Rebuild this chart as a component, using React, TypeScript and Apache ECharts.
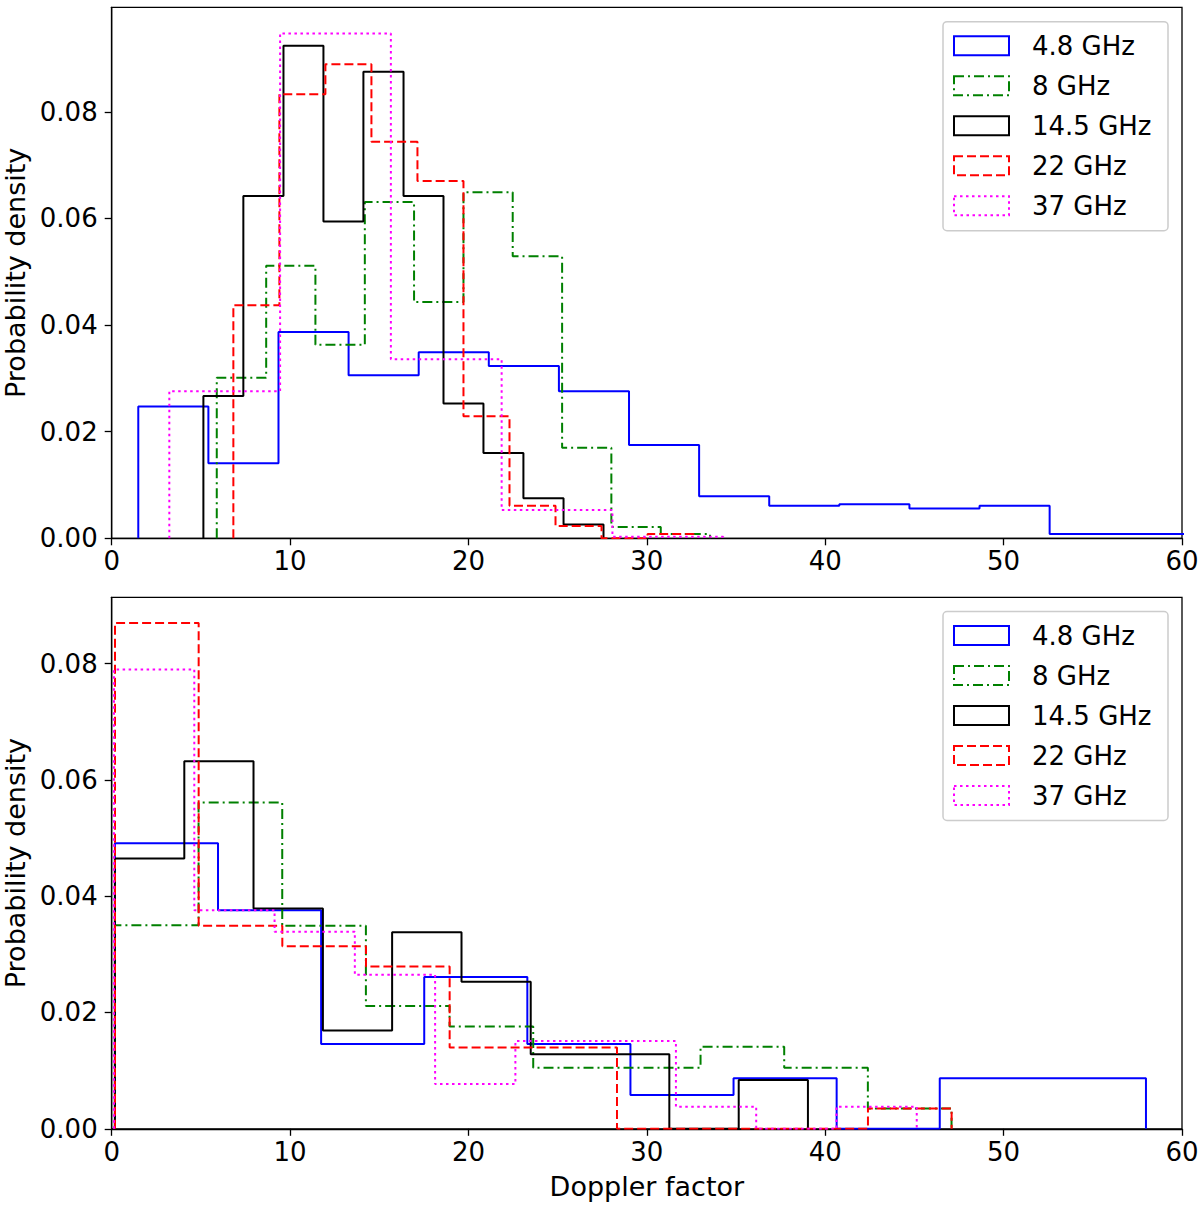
import { useEffect, useRef } from "react";
import * as echarts from "echarts";

// frequency bands, drawn in this order
const bands = ["4.8 GHz", "8 GHz", "14.5 GHz", "22 GHz", "37 GHz"];
const bandColors = ["#0000ff", "#008000", "#000000", "#ff0000", "#ff00ff"];
const bandDash: (number[] | "solid")[] = ["solid", [10, 4, 2, 4], "solid", [9, 4], [2.5, 3.5]];

// top panel: bin edges and densities
const blueTopEdges = [1.49, 5.42, 9.35, 13.28, 17.21, 21.14, 25.07, 29.0, 32.93, 36.86, 40.79, 44.72, 48.65, 52.58, 56.51, 60.44];
const blueTop = [0.0247, 0.0141, 0.0387, 0.0306, 0.0349, 0.0323, 0.0276, 0.0175, 0.0079, 0.0061, 0.0064, 0.0056, 0.0061, 0.0008, 0.0008];
const greenTopEdges = [5.89, 8.66, 11.42, 14.19, 16.95, 19.72, 22.48, 25.25, 28.01, 30.78, 33.54];
const greenTop = [0.0301, 0.0511, 0.0363, 0.0631, 0.0443, 0.0649, 0.0529, 0.017, 0.0021, 0.0008];
const blackTopEdges = [5.14, 7.38, 9.63, 11.87, 14.11, 16.36, 18.6, 20.84, 23.08, 25.33, 27.57];
const blackTop = [0.0267, 0.0642, 0.0924, 0.0594, 0.0875, 0.0642, 0.0253, 0.016, 0.0075, 0.0026];
const redTopEdges = [6.82, 9.4, 11.98, 14.56, 17.14, 19.72, 22.3, 24.88, 27.46, 30.04, 32.62];
const redTop = [0.0437, 0.0833, 0.0889, 0.0744, 0.067, 0.0229, 0.0061, 0.0023, 0, 0.0008];
const magentaTopEdges = [3.23, 9.44, 15.65, 21.86, 28.07, 34.28];
const magentaTop = [0.0276, 0.0947, 0.0336, 0.0053, 0.0003];

// bottom panel
const blueBotEdges = [0.18, 5.96, 11.74, 17.52, 23.3, 29.08, 34.86, 40.64, 46.42, 52.2, 57.98];
const blueBot = [0.0491, 0.0376, 0.0146, 0.0261, 0.0146, 0.0058, 0.0087, 0, 0.0087, 0.0087];
const greenBotEdges = [0.18, 4.87, 9.56, 14.25, 18.94, 23.63, 28.32, 33.01, 37.7, 42.39, 47.08];
const greenBot = [0.035, 0.0561, 0.0349, 0.0211, 0.0176, 0.0105, 0.0105, 0.0141, 0.0105, 0.0035];
const blackBotEdges = [0.18, 4.07, 7.95, 11.84, 15.72, 19.61, 23.49, 27.38, 31.26, 35.15, 39.03];
const blackBot = [0.0465, 0.0632, 0.0379, 0.0169, 0.0338, 0.0253, 0.0128, 0.0128, 0, 0.0084];
const redBotEdges = [0.185, 4.875, 9.565, 14.255, 18.945, 23.635, 28.325, 33.015, 37.705, 42.395, 47.085];
const redBot = [0.087, 0.0349, 0.0314, 0.0279, 0.014, 0.014, 0, 0, 0, 0.0035];
const magentaBotEdges = [0.13, 4.63, 9.13, 13.63, 18.13, 22.63, 27.13, 31.63, 36.13, 40.63, 45.13];
const magentaBot = [0.079, 0.0376, 0.0339, 0.0265, 0.0077, 0.0151, 0.0151, 0.0038, 0, 0.0038];

const yTicks = [0, 0.02, 0.04, 0.06, 0.08];

const FONT = "DejaVu Sans";

// outline of a step histogram: up at the first edge, down at the last
function stepPoints(edges: number[], vals: number[]) {
  const pts: number[][] = [[edges[0], 0]];
  vals.forEach((v, i) => pts.push([edges[i], v]));
  pts.push([edges[edges.length - 1], 0]);
  return pts;
}

function legendGraphic(top: number) {
  const left = 943;
  const els: any[] = [
    {
      type: "rect",
      shape: { x: left, y: top, width: 225, height: 209, r: 4 },
      style: { fill: "rgba(255,255,255,0.8)", stroke: "#cccccc", lineWidth: 1.5 },
      z: 100,
    },
  ];
  bands.forEach((b, i) => {
    const cy = top + 24 + i * 40;
    els.push({
      type: "rect",
      shape: { x: left + 11, y: cy - 9.5, width: 55, height: 19 },
      style: {
        fill: "none",
        stroke: bandColors[i],
        lineWidth: 2,
        lineDash: bandDash[i] === "solid" ? null : bandDash[i],
      },
      z: 101,
    });
    els.push({
      type: "text",
      x: left + 89,
      y: cy,
      style: { text: b, fontSize: 26, fontFamily: FONT, fill: "#000", verticalAlign: "middle" },
      z: 101,
    });
  });
  return els;
}

export default function App() {
  const chartRef = useRef<HTMLDivElement>(null);

  useEffect(() => {
    if (!chartRef.current) return;
    const chart = echarts.init(chartRef.current, undefined, { renderer: "svg" });

    const panels = [
      [blueTopEdges, blueTop, greenTopEdges, greenTop, blackTopEdges, blackTop, redTopEdges, redTop, magentaTopEdges, magentaTop],
      [blueBotEdges, blueBot, greenBotEdges, greenBot, blackBotEdges, blackBot, redBotEdges, redBot, magentaBotEdges, magentaBot],
    ];

    const series: any[] = [];
    panels.forEach((p, pi) => {
      bands.forEach((b, i) => {
        series.push({
          name: b,
          type: "line",
          xAxisIndex: pi,
          yAxisIndex: pi,
          step: "end",
          symbol: "none",
          data: stepPoints(p[i * 2], p[i * 2 + 1]),
          lineStyle: { color: bandColors[i], width: 2, type: bandDash[i], cap: "butt" },
          itemStyle: { color: bandColors[i] },
        });
      });
    });

    const xAxisBase = {
      type: "value",
      min: 0,
      max: 60,
      interval: 10,
      axisLine: { show: true, onZero: false, lineStyle: { color: "#000", width: 1.3 } },
      axisTick: { show: true, length: 7, lineStyle: { color: "#000", width: 1.3 } },
      axisLabel: { color: "#000", fontSize: 26, fontFamily: FONT, margin: 10 },
      splitLine: { show: false },
    };
    const yAxisBase = {
      type: "value",
      min: 0,
      name: "Probability density",
      nameLocation: "middle",
      nameGap: 77,
      nameTextStyle: { color: "#000", fontSize: 27, fontFamily: FONT },
      axisLine: { show: true, lineStyle: { color: "#000", width: 1.3 } },
      axisTick: { show: true, length: 7, customValues: yTicks, lineStyle: { color: "#000", width: 1.3 } },
      axisLabel: {
        color: "#000",
        fontSize: 26,
        fontFamily: FONT,
        margin: 14,
        customValues: yTicks,
        formatter: (v: number) => v.toFixed(2),
      },
      splitLine: { show: false },
    };

    chart.setOption({
      animation: false,
      backgroundColor: "#ffffff",
      grid: [
        { left: 111.7, right: 18, top: 7.3, height: 531, show: true, borderColor: "#000", borderWidth: 1.3, outerBoundsMode: "none", containLabel: false },
        { left: 111.7, right: 18, top: 597.3, height: 531.5, show: true, borderColor: "#000", borderWidth: 1.3, outerBoundsMode: "none", containLabel: false },
      ],
      xAxis: [
        { ...xAxisBase, gridIndex: 0 },
        {
          ...xAxisBase,
          gridIndex: 1,
          name: "Doppler factor",
          nameLocation: "middle",
          nameGap: 44,
          nameTextStyle: { color: "#000", fontSize: 27, fontFamily: FONT },
        },
      ],
      yAxis: [
        { ...yAxisBase, gridIndex: 0, max: 0.0996 },
        { ...yAxisBase, gridIndex: 1, max: 0.0914 },
      ],
      series,
      graphic: [...legendGraphic(21.7), ...legendGraphic(611.5)],
    });

    return () => {
      chart.dispose();
    };
  }, []);

  return (
    <div
      ref={chartRef}
      style={{ position: "absolute", left: 0, top: 0, width: 1200, height: 1208, background: "#fff" }}
    />
  );
}
